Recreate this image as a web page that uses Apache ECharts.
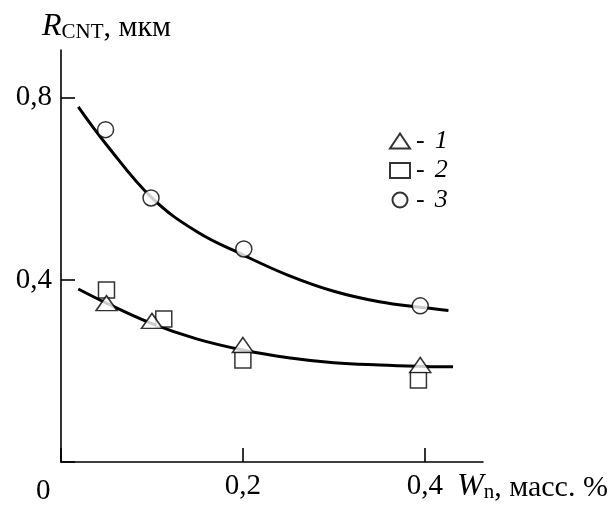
<!DOCTYPE html>
<html>
<head>
<meta charset="utf-8">
<script src="https://cdn.jsdelivr.net/npm/echarts@6/dist/echarts.min.js"></script>
<style>
  html, body { margin: 0; padding: 0; background: #fff; }
  #chart { width: 613px; height: 513px; }
</style>
</head>
<body>
<div id="chart"></div>
<script>
// measured points (x: W_n, mass %; y: R_CNT, um)
const xTri = [0.05, 0.10, 0.20, 0.395]
const yTri = [0.349, 0.310, 0.257, 0.213]
const xSq = [0.05, 0.113, 0.20, 0.393]
const ySq = [0.378, 0.314, 0.224, 0.180]
const xCirc = [0.049, 0.099, 0.201, 0.395]
const yCirc = [0.730, 0.580, 0.468, 0.343]

// fitted curves
const xUpper = [0.019, 0.05, 0.10, 0.15, 0.20, 0.25, 0.30, 0.35, 0.40, 0.426]
const yUpper = [0.780, 0.697, 0.580, 0.505, 0.455, 0.410, 0.375, 0.352, 0.339, 0.333]
const xLower = [0.019, 0.05, 0.10, 0.15, 0.20, 0.25, 0.30, 0.35, 0.40, 0.431]
const yLower = [0.380, 0.349, 0.304, 0.270, 0.246, 0.229, 0.218, 0.213, 0.210, 0.209]

const seriesNames = ['1', '2', '3']
const xTicks = [0, 0.2, 0.4]
const yTicks = [0, 0.4, 0.8]

const zip = (xs, ys) => xs.map((x, i) => [x, ys[i]])
const fmt = v => (v === 0 ? '' : String(Math.round(v * 10) / 10).replace('.', ','))

const FONT = '"Liberation Serif", "Times New Roman", serif'
const markerStyle = { color: '#fff', borderColor: '#000', borderWidth: 1.5 }

// rich style for "Letter_sub, units" axis captions
const captionRich = {
  r: { fontFamily: FONT, fontSize: 32, fontStyle: 'italic', fill: '#000', verticalAlign: 'bottom' },
  s: { fontFamily: FONT, fontSize: 21, fill: '#000', padding: [10, 0, 0, 0], verticalAlign: 'bottom' },
  t: { fontFamily: FONT, fontSize: 30, fill: '#000', verticalAlign: 'bottom' }
}

const chart = echarts.init(document.getElementById('chart'))

chart.setOption({
  animation: false,
  backgroundColor: '#fff',
  grid: { left: 61, right: 130, top: 50, bottom: 51 },
  xAxis: {
    type: 'value',
    min: 0,
    max: 0.464,
    interval: 0.2,
    axisLine: { lineStyle: { color: '#000', width: 1.6 } },
    axisTick: { inside: true, length: 14, lineStyle: { color: '#000', width: 1.6 } },
    axisLabel: {
      color: '#000', fontFamily: FONT, fontSize: 29, margin: 10,
      showMaxLabel: false,
      formatter: v => (xTicks.includes(Math.round(v * 10) / 10) ? fmt(v) : '')
    },
    splitLine: { show: false }
  },
  yAxis: {
    type: 'value',
    min: 0,
    max: 0.905,
    interval: 0.4,
    axisLine: { show: true, lineStyle: { color: '#000', width: 1.6 } },
    axisTick: { show: true, inside: true, length: 14, lineStyle: { color: '#000', width: 1.6 } },
    axisLabel: {
      color: '#000', fontFamily: FONT, fontSize: 29, margin: 9,
      showMaxLabel: false,
      formatter: v => (yTicks.includes(Math.round(v * 10) / 10) ? fmt(v) : '')
    },
    splitLine: { show: false }
  },
  legend: {
    orient: 'vertical',
    left: 384,
    top: 123,
    itemWidth: 20,
    itemHeight: 15,
    itemGap: 3.5,
    data: seriesNames,
    formatter: n => '{d|-}{n|' + n + '}',
    textStyle: {
      rich: {
        d: { fontFamily: FONT, fontSize: 26, color: '#000', lineHeight: 28, padding: [0, 0, 0, 1] },
        n: { fontFamily: FONT, fontSize: 26, fontStyle: 'italic', color: '#000', lineHeight: 28, padding: [0, 0, 0, 10] }
      }
    }
  },
  graphic: [
    {
      type: 'text', left: 42, top: 11,
      style: { text: '{r|R}{s|CNT}{t|, мкм}', rich: captionRich }
    },
    {
      type: 'text', left: 457, top: 471,
      style: { text: '{r|W}{s|n}{t|, масс. %}', rich: captionRich }
    },
    {
      type: 'text', left: 36, top: 477,
      style: { text: '0', fontFamily: FONT, fontSize: 29, fill: '#000' }
    }
  ],
  series: [
    {
      type: 'line', data: zip(xUpper, yUpper), smooth: 0.4, symbol: 'none',
      lineStyle: { color: '#000', width: 3 }, z: 2
    },
    {
      type: 'line', data: zip(xLower, yLower), smooth: 0.4, symbol: 'none',
      lineStyle: { color: '#000', width: 3 }, z: 2
    },
    {
      name: '2', type: 'scatter', data: zip(xSq, ySq), symbol: 'rect', symbolSize: 16,
      itemStyle: markerStyle, z: 3
    },
    {
      name: '1', type: 'scatter', data: zip(xTri, yTri), symbol: 'triangle', symbolSize: [21, 15],
      itemStyle: markerStyle, z: 4
    },
    {
      name: '3', type: 'scatter', data: zip(xCirc, yCirc), symbol: 'circle', symbolSize: 16,
      itemStyle: markerStyle, z: 4
    }
  ]
})
</script>
</body>
</html>
